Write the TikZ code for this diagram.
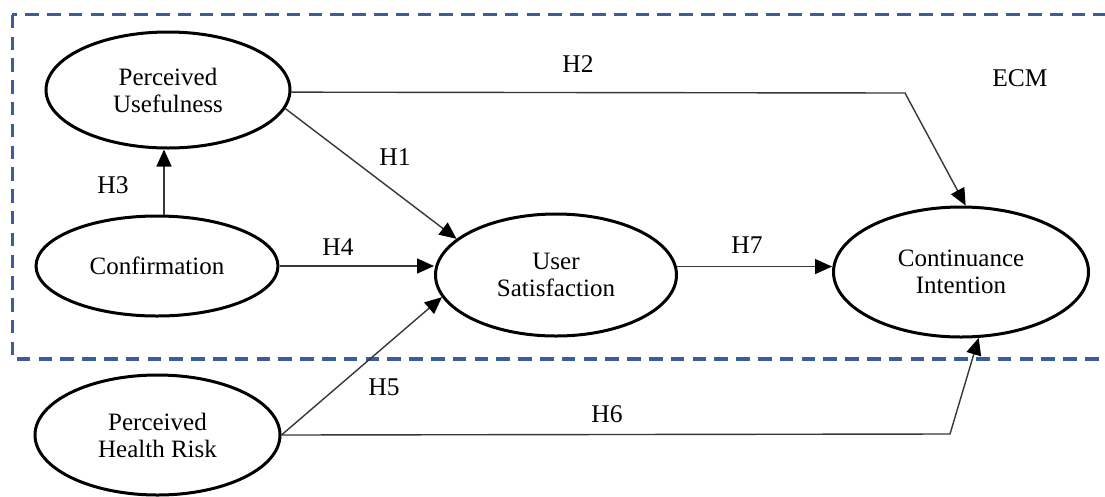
\documentclass[tikz,border=0pt]{standalone}
\usepackage{fontspec}
\setmainfont{Liberation Serif}
\usetikzlibrary{shapes.geometric,arrows.meta,calc}
\definecolor{ecmblue}{RGB}{60,92,158}
\definecolor{lineg}{RGB}{55,55,55}
\begin{document}
\begin{tikzpicture}[x=1pt,y=-1pt,
  construct/.style={ellipse,draw=black,line width=3pt,inner sep=0pt,align=center,font=\fontsize{25}{27}\selectfont},
  hyp/.style={font=\fontsize{25.5}{27}\selectfont,inner sep=0pt},
  arr/.style={draw=lineg,line width=1.4pt,-{Triangle[length=17pt,width=15pt,fill=black,color=black]}},
  ecmbox/.style={draw=ecmblue,line width=3.3pt,dash pattern=on 13.5pt off 8.3pt}
]
\useasboundingbox (0,0) rectangle (1105,496);
\clip (0,0) rectangle (1105,496);
\fill[white] (0,0) rectangle (1105,496);

% ECM boundary
\draw[ecmbox] (12.3,14.7) rectangle (1120,359);
\node[hyp] (ecm) at (1020,78) {ECM};

% constructs
\node[construct,minimum width=244pt,minimum height=116pt] (PU) at (168,90) {Perceived\\Usefulness};
\node[construct,minimum width=242pt,minimum height=100pt] (CF) at (157,266) {Confirmation};
\node[construct,minimum width=241pt,minimum height=122pt] (US) at (556,275) {User\\Satisfaction};
\node[construct,minimum width=255pt,minimum height=130pt] (CI) at (961,272) {Continuance\\Intention};
\node[construct,minimum width=245pt,minimum height=120pt] (PHR) at (157.5,435) {Perceived\\Health Risk};

% bend points
\coordinate (h2b) at (905,93);
\coordinate (h6b) at (950,434);

% connectors
\draw[arr] ($(CF.north)+(7,0)$) -- ($(PU.south)+(-4,0)$);
\draw[arr] (PU.-9) -- (US.160);
\draw[arr] (PU.-1) -- (h2b) -- (CI.86);
\draw[arr] (CF.east) -- (CF.east -| US.west);
\draw[arr] (US.4) -- (US.4 -| CI.west);
\draw[arr] (PHR.east) -- (US.191);
\draw[arr] (PHR.east) -- (h6b) -- (CI.-75);

% labels
\node[hyp] (h1) at (395,157) {H1};
\node[hyp] (h2) at (578,64) {H2};
\node[hyp] (h3) at (113,185) {H3};
\node[hyp] (h4) at (338,247) {H4};
\node[hyp] (h5) at (384,387) {H5};
\node[hyp] (h6) at (607,414) {H6};
\node[hyp] (h7) at (747,245) {H7};
\end{tikzpicture}
\end{document}
